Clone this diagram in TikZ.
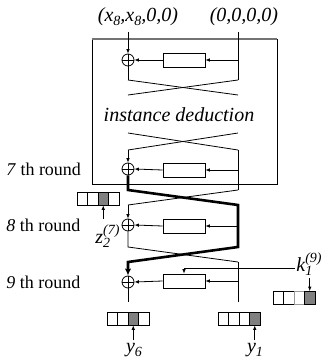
\documentclass[tikz,border=0pt]{standalone}
\usepackage{fontspec}
\setmainfont{Liberation Serif}
\usetikzlibrary{arrows.meta}
\newcommand{\ssb}[3]{#1\rlap{\raisebox{-0.45ex}{\fontsize{14}{14}\selectfont #2}}\raisebox{1.0ex}{\fontsize{14}{14}\selectfont #3}}
\newcommand{\sbonly}[2]{#1\raisebox{-0.45ex}{\fontsize{14}{14}\selectfont #2}}
\begin{document}
\begin{tikzpicture}[x=1pt,y=-1pt,
  every path/.style={line width=0.8pt},
  thickline/.style={line width=2.6pt},
  arr/.style={-{Latex[length=4.5pt,width=3.6pt]}},
  bigarr/.style={-{Latex[length=7pt,width=6.5pt]}},
  fbox/.style={draw,line width=0.8pt,minimum width=42pt,minimum height=14pt,inner sep=0pt},
  xor/.style={draw,circle,line width=0.8pt,minimum size=12pt,inner sep=0pt,
    path picture={\draw[line width=0.8pt] (path picture bounding box.north)--(path picture bounding box.south)
      (path picture bounding box.west)--(path picture bounding box.east);}},
  cell/.style={draw,line width=0.8pt,minimum width=10.5pt,minimum height=13pt,inner sep=0pt},
  gcell/.style={cell,fill=black!50},
  lbl/.style={font=\fontsize{20}{24}\selectfont\itshape,inner sep=0pt},
  rlbl/.style={font=\fontsize{18}{22}\selectfont,inner sep=0pt,anchor=west}
]
\useasboundingbox (0,0) rectangle (325,360);

% top labels
\node[lbl] (in1) at (138,17) {(\sbonly{x}{8},\sbonly{x}{8},0,0)};
\node[lbl] (in2) at (244,17) {(0,0,0,0)};

% outer box
\draw (92,39) -- (92,184) -- (277,184) -- (277,39);
\draw[black!55,line width=1.4pt] (92,39) -- (277,39);

% round 1
\coordinate (t1L) at (128,32); \coordinate (t1R) at (238,32);
\node[xor] (x1) at (128,60) {};
\node[fbox] (f1) at (184,60) {};
\coordinate (j1) at (238,60);
\coordinate (b1L) at (128,80); \coordinate (b1R) at (238,80);
\coordinate (c1L) at (128,95); \coordinate (c1R) at (238,95);
\draw[arr] (t1L) -- (x1.north);
\draw (t1R) -- (b1R);
\draw[arr] (j1) -- (f1.east);
\draw[arr] (f1.west) -- (x1.east);
\draw (x1.south) -- (b1L);
\draw (b1L) -- (c1R);
\draw (b1R) -- (c1L);

\node[lbl] (ded) at (179,115) {instance deduction};

% X before round 7
\coordinate (d7L) at (128,133); \coordinate (d7R) at (238,133);
\coordinate (e7L) at (128,150); \coordinate (e7R) at (238,150);
\draw (d7L) -- (e7R);
\draw (d7R) -- (e7L);

% round 7
\node[xor] (x7) at (128,169) {};
\node[fbox] (f7) at (184,170) {};
\coordinate (j7) at (238,170);
\coordinate (b7L) at (128,190); \coordinate (b7R) at (238,190);
\coordinate (c7L) at (128,205); \coordinate (c7R) at (238,205);
\draw[arr] (e7L) -- (x7.north);
\draw (e7R) -- (b7R);
\draw[arr] (j7) -- (f7.east);
\draw[arr] (f7.west) -- (x7.east);
\draw (b7R) -- (c7L);

% round 8
\node[xor] (x8) at (128,225) {};
\node[fbox] (f8) at (184,226) {};
\coordinate (j8) at (238,226);
\coordinate (b8L) at (128,247); \coordinate (b8R) at (238,247);
\coordinate (c8L) at (128,262); \coordinate (c8R) at (238,262);
\draw[arr] (c7L) -- (x8.north);
\draw[arr] (j8) -- (f8.east);
\draw[arr] (f8.west) -- (x8.east);
\draw (x8.south) -- (b8L) -- (c8R);

% round 9
\node[xor] (x9) at (128,282) {};
\node[fbox] (f9) at (184,281) {};
\coordinate (j9) at (238,281);
\coordinate (e9L) at (128,302); \coordinate (e9R) at (238,302);
\draw (c8R) -- (e9R);
\draw[arr] (j9) -- (f9.east);
\draw[arr] (f9.west) -- (x9.east);
\draw (x9.south) -- (e9L);

% thick path
\coordinate (th9) at (128,268);
\draw[thickline,line join=miter] (x7.south) -- (b7L) -- (c7R) -- (b8R) -- (c8L) -- (th9);
\draw[thickline,bigarr] (th9) -- (x9.north);

% round labels
\node[rlbl] (r7) at (6,169) {\textit{7} th round};
\node[rlbl] (r8) at (6,225) {\textit{8} th round};
\node[rlbl] (r9) at (6,282) {\textit{9} th round};

% z register
\node[cell]  (z1) at (82.25,198.5) {};
\node[cell]  (z2) at (92.75,198.5) {};
\node[gcell] (z3) at (103.25,198.5) {};
\node[cell]  (z4) at (113.75,198.5) {};
\coordinate (za) at (103.25,219);
\draw[arr] (za) -- (z3.south);
\node[lbl,anchor=west] (zl) at (95,236) {\ssb{z}{2}{(7)}};

% k label and register
\node[lbl,anchor=west] (kl) at (296,264) {\ssb{k}{1}{(9)}};
\coordinate (kL) at (184,268); \coordinate (kR) at (295,268);
\draw (kR) -- (kL);
\draw[arr] (kL) -- (f9.north);
\node[cell]  (k1) at (278.25,298) {};
\node[cell]  (k2) at (288.75,298) {};
\node[cell,draw=black!40]  (k3) at (299.25,298) {};
\node[gcell] (k4) at (309.75,298) {};
\coordinate (ka) at (309.75,278);
\draw[arr] (ka) -- (k4.north);

% y6 register
\node[cell]  (y61) at (112.25,318.5) {};
\node[cell]  (y62) at (122.75,318.5) {};
\node[gcell] (y63) at (133.25,318.5) {};
\node[cell]  (y64) at (143.75,318.5) {};
\coordinate (y6a) at (133.25,340);
\draw[arr] (y6a) -- (y63.south);
\node[lbl] (y6l) at (134,350) {\sbonly{y}{6}};

% y1 register
\node[cell]  (y11) at (223.25,318.5) {};
\node[cell]  (y12) at (233.75,318.5) {};
\node[cell]  (y13) at (244.25,318.5) {};
\node[gcell] (y14) at (254.75,318.5) {};
\coordinate (y1a) at (254.75,340);
\draw[arr] (y1a) -- (y14.south);
\node[lbl] (y1l) at (255,350) {\sbonly{y}{1}};
\end{tikzpicture}
\end{document}
